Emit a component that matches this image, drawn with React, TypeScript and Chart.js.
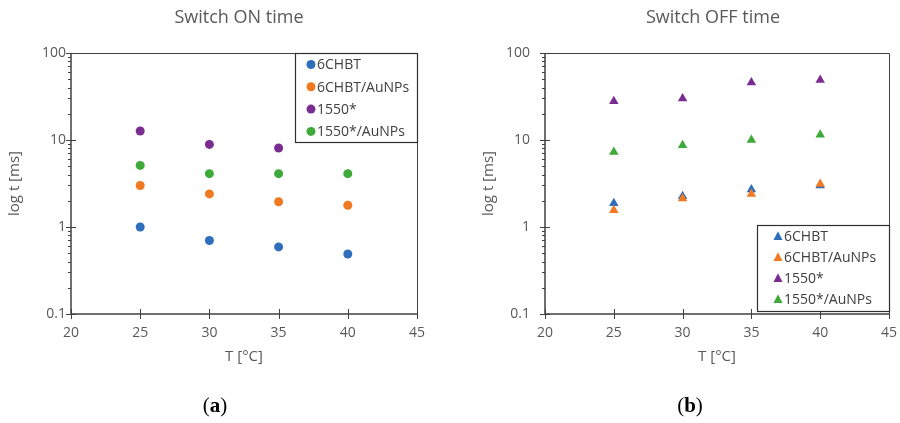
import { useEffect, useRef } from 'react';
import { Chart, registerables } from 'chart.js';

Chart.register(...registerables);

// ---------- data ----------
const temperatures = [25, 30, 35, 40];
const seriesNames = ['6CHBT', '6CHBT/AuNPs', '1550*', '1550*/AuNPs'];
const seriesColors = ['#2F6EBA', '#F07A22', '#7B2C91', '#3DAA3A'];

const onTime6CHBT = [1.0, 0.7, 0.59, 0.49];
const onTime6CHBTAu = [3.0, 2.4, 1.95, 1.78];
const onTime1550 = [12.7, 8.9, 8.1, null];
const onTime1550Au = [5.1, 4.1, 4.1, 4.1];

const offTime6CHBT = [1.88, 2.25, 2.7, 3.0];
const offTime6CHBTAu = [1.56, 2.12, 2.4, 3.12];
const offTime1550 = [27.9, 29.9, 45.7, 49.0];
const offTime1550Au = [7.3, 8.7, 10.0, 11.5];

const xTickValues = [20, 25, 30, 35, 40, 45];
const yTickValues = [0.1, 1, 10, 100];
const yMinorMultipliers = [2, 3, 4, 5, 6, 7, 8, 9];

const FONT = '"Open Sans", "Noto Sans", sans-serif';
const AXIS_COLOR = '#404040';
const TEXT_COLOR = '#595959';

type PanelCfg = {
  title: string;
  series: (number | null)[][];
  pointStyle: 'circle' | 'triangle';
  radius: number;
  yAxisWidth: number;
  yTitlePad: number;
  yLabelPad: number;
  padRight: number;
  titleShift: number;
  legend: { anchor: 'top' | 'bottom'; width: number; height: number; offset: number; markerX: number; textX: number; rowH: number; firstRow: number };
};

const decorPlugin = {
  id: 'decor',
  afterDraw(chart: any, _args: any, opts: any) {
    const { ctx, chartArea: a, scales } = chart;
    const xs = scales.x;
    const ys = scales.y;
    ctx.save();
    // frame (top/right box)
    ctx.strokeStyle = AXIS_COLOR;
    ctx.lineWidth = 1;
    ctx.beginPath();
    ctx.moveTo(a.left, a.top + 0.5);
    ctx.lineTo(a.right + 0.5, a.top + 0.5);
    ctx.lineTo(a.right + 0.5, a.bottom);
    ctx.stroke();
    // axes
    ctx.lineWidth = 1.5;
    ctx.beginPath();
    ctx.moveTo(a.left, a.top);
    ctx.lineTo(a.left, a.bottom);
    ctx.lineTo(a.right + 1, a.bottom);
    ctx.stroke();
    // y ticks
    ctx.lineWidth = 1;
    ctx.beginPath();
    for (const v of yTickValues) {
      const py = Math.round(ys.getPixelForValue(v)) + 0.5;
      ctx.moveTo(a.left - 5, py);
      ctx.lineTo(a.left + 5, py);
    }
    for (let d = 0; d < yTickValues.length - 1; d++) {
      for (const m of yMinorMultipliers) {
        const py = Math.round(ys.getPixelForValue(yTickValues[d] * m)) + 0.5;
        ctx.moveTo(a.left - 3, py);
        ctx.lineTo(a.left, py);
      }
    }
    // x ticks
    for (const v of xTickValues) {
      const px = Math.round(xs.getPixelForValue(v)) + 0.5;
      ctx.moveTo(px, a.bottom - 5);
      ctx.lineTo(px, a.bottom + 5);
    }
    ctx.stroke();

    // title
    ctx.fillStyle = TEXT_COLOR;
    ctx.font = `18px ${FONT}`;
    ctx.textAlign = 'center';
    ctx.textBaseline = 'middle';
    ctx.fillText(opts.title, (a.left + a.right) / 2 + opts.titleShift, 18);

    // legend
    const L = opts.legend;
    const bx = a.right - L.width;
    const by = L.anchor === 'top' ? a.top : a.bottom - L.offset - L.height;
    ctx.fillStyle = '#ffffff';
    ctx.fillRect(bx, by, L.width, L.height);
    ctx.strokeStyle = '#303030';
    ctx.lineWidth = 1.2;
    ctx.strokeRect(bx + 0.5, by + 0.5, L.width, L.height);
    ctx.font = `14px ${FONT}`;
    ctx.textAlign = 'left';
    chart.data.datasets.forEach((ds: any, i: number) => {
      const cy = by + L.firstRow + i * L.rowH;
      const cx = bx + L.markerX;
      ctx.fillStyle = ds.backgroundColor;
      ctx.beginPath();
      if (opts.pointStyle === 'circle') {
        ctx.arc(cx, cy, 4.5, 0, Math.PI * 2);
      } else {
        const r = 5.2;
        ctx.moveTo(cx, cy - r);
        ctx.lineTo(cx + r * 0.866, cy + r * 0.5 + 1);
        ctx.lineTo(cx - r * 0.866, cy + r * 0.5 + 1);
        ctx.closePath();
      }
      ctx.fill();
      ctx.fillStyle = '#404040';
      ctx.fillText(ds.label, bx + L.textX, cy + 1);
    });
    ctx.restore();
  },
};

function Panel({ cfg }: { cfg: PanelCfg }) {
  const ref = useRef<HTMLCanvasElement | null>(null);
  useEffect(() => {
    if (!ref.current) return;
    const chart = new Chart(ref.current, {
      type: 'scatter',
      data: {
        datasets: cfg.series.map((vals, i) => ({
          label: seriesNames[i],
          data: temperatures.map((t, j) => ({ x: t, y: vals[j] as any })),
          backgroundColor: seriesColors[i],
          borderColor: seriesColors[i],
          borderWidth: 0,
          pointStyle: cfg.pointStyle,
          pointRadius: cfg.radius,
          pointHoverRadius: cfg.radius,
          order: cfg.series.length - i,
        })),
      },
      options: {
        responsive: false,
        animation: false,
        layout: { padding: { left: 0, right: cfg.padRight, top: 53, bottom: 39 } },
        plugins: {
          legend: { display: false },
          tooltip: { enabled: false },
          title: { display: false },
          decor: {
            title: cfg.title,
            titleShift: cfg.titleShift,
            legend: cfg.legend,
            pointStyle: cfg.pointStyle,
          },
        } as any,
        scales: {
          x: {
            type: 'linear',
            min: 20,
            max: 45,
            afterBuildTicks: (s: any) => {
              s.ticks = xTickValues.map((v) => ({ value: v }));
            },
            afterFit: (s: any) => {
              s.height = 70;
              s.paddingLeft = 0;
              s.paddingRight = 0;
            },
            grid: { display: false, drawTicks: false },
            border: { display: false },
            ticks: {
              padding: 11,
              color: TEXT_COLOR,
              font: { family: FONT, size: 14 },
              autoSkip: false,
              maxRotation: 0,
            },
            title: {
              display: true,
              text: 'T [°C]',
              color: TEXT_COLOR,
              font: { family: FONT, size: 15 },
              padding: { top: 0, bottom: 18 },
            },
          },
          y: {
            type: 'logarithmic',
            min: 0.1,
            max: 100,
            afterBuildTicks: (s: any) => {
              s.ticks = yTickValues.map((v) => ({ value: v }));
            },
            afterFit: (s: any) => {
              s.width = cfg.yAxisWidth;
              s.paddingTop = 0;
              s.paddingBottom = 0;
            },
            grid: { display: false, drawTicks: false },
            border: { display: false },
            ticks: {
              padding: cfg.yLabelPad,
              color: TEXT_COLOR,
              font: { family: FONT, size: 14 },
              autoSkip: false,
              callback: (v: any) => String(v),
            },
            title: {
              display: true,
              text: 'log t [ms]',
              color: TEXT_COLOR,
              font: { family: FONT, size: 15 },
              padding: { top: cfg.yTitlePad, bottom: 0 },
            },
          },
        },
      },
      plugins: [decorPlugin],
    });
    return () => chart.destroy();
  }, [cfg]);
  return <canvas ref={ref} width={450} height={423} style={{ display: 'block' }} />;
}

const leftCfg: PanelCfg = {
  title: 'Switch ON time',
  series: [onTime6CHBT, onTime6CHBTAu, onTime1550, onTime1550Au],
  pointStyle: 'circle',
  radius: 4.5,
  yAxisWidth: 71,
  yTitlePad: 6,
  yLabelPad: 5,
  padRight: 33,
  titleShift: -5,
  legend: { anchor: 'top', width: 122, height: 89, offset: 0, markerX: 16, textX: 22, rowH: 22.3, firstRow: 11.5 },
};

const rightCfg: PanelCfg = {
  title: 'Switch OFF time',
  series: [offTime6CHBT, offTime6CHBTAu, offTime1550, offTime1550Au],
  pointStyle: 'triangle',
  radius: 5.5,
  yAxisWidth: 95,
  yTitlePad: 30,
  yLabelPad: 15,
  padRight: 11,
  titleShift: -4,
  legend: { anchor: 'bottom', width: 132, height: 86, offset: 3, markerX: 21, textX: 27, rowH: 21, firstRow: 11.5 },
};

export default function App() {
  return (
    <div style={{ position: 'absolute', left: 0, top: 0, width: 900, height: 423, background: '#ffffff', overflow: 'hidden' }}>
      <div style={{ position: 'absolute', left: 0, top: 0 }}>
        <Panel cfg={leftCfg} />
      </div>
      <div style={{ position: 'absolute', left: 450, top: 0 }}>
        <Panel cfg={rightCfg} />
      </div>
      <div style={{ position: 'absolute', left: 165, width: 100, top: 393, textAlign: 'center', fontFamily: '"Liberation Serif", serif', fontSize: 21, color: '#000' }}>
        (<b>a</b>)
      </div>
      <div style={{ position: 'absolute', left: 640, width: 100, top: 393, textAlign: 'center', fontFamily: '"Liberation Serif", serif', fontSize: 21, color: '#000' }}>
        (<b>b</b>)
      </div>
    </div>
  );
}
